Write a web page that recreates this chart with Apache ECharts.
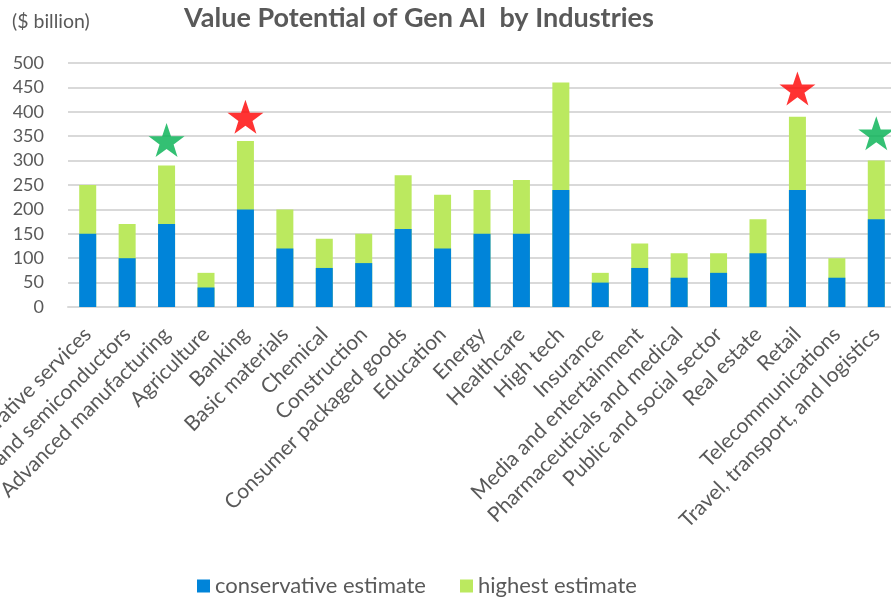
<!DOCTYPE html>
<html>
<head>
<meta charset="utf-8">
<script src="https://cdn.jsdelivr.net/npm/echarts@6/dist/echarts.min.js"></script>
<style>html,body{margin:0;padding:0;background:#fff;}#c{width:891px;height:598px;}</style>
</head>
<body>
<div id="c"></div>
<script>
var categories = ["Administrative services","Advanced electronics and semiconductors","Advanced manufacturing","Agriculture","Banking","Basic materials","Chemical","Construction","Consumer packaged goods","Education","Energy","Healthcare","High tech","Insurance","Media and entertainment","Pharmaceuticals and medical","Public and social sector","Real estate","Retail","Telecommunications","Travel, transport, and logistics"];
var conservative = [150,100,170,40,200,120,80,90,160,120,150,150,240,50,80,60,70,110,240,60,180];
var highest = [250,170,290,70,340,200,140,150,270,230,240,260,460,70,130,110,110,180,390,100,300];
var redStars = [["Banking",390],["High tech",523],["Retail",448]];
var greenStars = [["Advanced manufacturing",342],["Travel, transport, and logistics",356]];
var yTicks = [0,50,100,150,200,250,300,350,400,450,500];

var starPath = 'path://M50,0 L61.8,35.1 L98.1,35.1 L68.8,56.7 L79.4,90.5 L50,69.1 L20.6,90.5 L31.2,56.7 L1.9,35.1 L38.2,35.1 Z';
var font = 'Lato, "Open Sans", sans-serif';
var chart = echarts.init(document.getElementById('c'), null, {renderer:'canvas'});
chart.setOption({
  animation:false,
  backgroundColor:'#fff',
  title:[{
    text:'Value Potential of Gen AI  by Industries',
    left:414, textAlign:'center', top:0,
    textStyle:{fontFamily:font,fontWeight:'bold',fontSize:27,color:'#595959'}
  },{
    text:'($ billion)', left:7, top:7,
    textStyle:{fontFamily:font,fontWeight:'normal',fontSize:19.5,color:'#595959'}
  }],
  legend:{
    data:['conservative estimate','highest estimate'],
    left:192, top:570,
    icon:'rect', itemWidth:13, itemHeight:13, itemGap:34,
    textStyle:{fontFamily:font,fontSize:22,color:'#595959'}
  },
  grid:{left:68, right:-5, top:63, bottom:291, containLabel:false, outerBoundsMode:'none'},
  xAxis:{
    type:'category', data:categories,
    axisLine:{lineStyle:{color:'#d9d9d9',width:2}},
    axisTick:{show:false},
    axisLabel:{rotate:45, interval:0, margin:24, fontFamily:font, fontSize:21, color:'#595959', hideOverlap:false}
  },
  yAxis:{
    type:'value', min:0, max:500, interval:50,
    axisLine:{show:false}, axisTick:{show:false},
    splitLine:{lineStyle:{color:'#d9d9d9',width:2}},
    axisLabel:{margin:24, fontFamily:font, fontSize:18, color:'#595959',
      formatter:function(v){return yTicks.indexOf(v)>=0?String(v):'';}}
  },
  series:[
    {name:'highest estimate', type:'bar', data:highest, barWidth:17, barGap:'-100%',
     itemStyle:{color:'#bbe95f'}, z:2},
    {name:'conservative estimate', type:'bar', data:conservative, barWidth:17,
     itemStyle:{color:'#0084d9'}, z:3},
    {type:'scatter', data:redStars, symbol:starPath, symbolSize:[36,34],
     itemStyle:{color:'#ff0000'}, z:4, silent:true},
    {type:'scatter', data:greenStars, symbol:starPath, symbolSize:[36,34],
     itemStyle:{color:'#00b050'}, z:4, silent:true}
  ]
});
</script>
</body>
</html>
